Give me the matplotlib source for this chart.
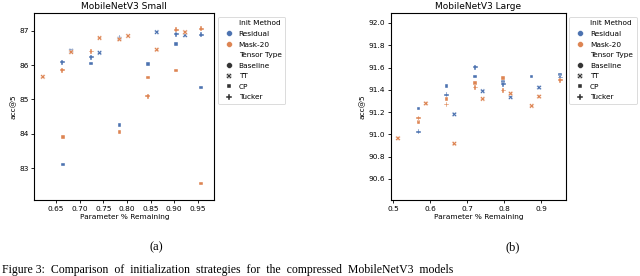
import numpy as np
import pandas as pd
import matplotlib
matplotlib.use("Agg")
import matplotlib.pyplot as plt
import seaborn as sns

methods = ["Residual", "Mask-20"]
types = ["Baseline", "TT", "CP", "Tucker"]

# MobileNetV3 Small: (x, y) per init method / tensor type
small_res_tt_x = [0.682, 0.742, 0.784, 0.863, 0.923]
small_res_tt_y = [86.42, 86.36, 86.77, 86.96, 86.87]
small_res_cp_x = [0.665, 0.724, 0.784, 0.844, 0.904, 0.957]
small_res_cp_y = [83.10, 86.05, 84.26, 86.03, 86.61, 85.35]
small_res_tk_x = [0.663, 0.724, 0.784, 0.904, 0.957]
small_res_tk_y = [86.09, 86.23, 86.80, 86.90, 86.88]

small_msk_tt_x = [0.622, 0.682, 0.742, 0.784, 0.8025, 0.863, 0.923]
small_msk_tt_y = [85.66, 86.38, 86.79, 86.75, 86.85, 86.45, 86.96]
small_msk_cp_x = [0.665, 0.784, 0.844, 0.904, 0.957]
small_msk_cp_y = [83.91, 84.05, 85.64, 85.85, 82.55]
small_msk_tk_x = [0.663, 0.724, 0.844, 0.904, 0.957]
small_msk_tk_y = [85.85, 86.40, 85.10, 87.03, 87.06]

# MobileNetV3 Large
large_res_tt_x = [0.665, 0.7415, 0.817, 0.894]
large_res_tt_y = [91.179, 91.387, 91.333, 91.42]
large_res_cp_x = [0.5686, 0.644, 0.721, 0.7965, 0.874, 0.951]
large_res_cp_y = [91.232, 91.434, 91.521, 91.47, 91.521, 91.536]
large_res_tk_x = [0.5686, 0.644, 0.721, 0.7965, 0.951]
large_res_tk_y = [91.023, 91.354, 91.604, 91.45, 91.51]

large_msk_tt_x = [0.5127, 0.588, 0.665, 0.7415, 0.817, 0.874, 0.894]
large_msk_tt_y = [90.964, 91.277, 90.916, 91.318, 91.366, 91.255, 91.339]
large_msk_cp_x = [0.5686, 0.644, 0.721, 0.7965]
large_msk_cp_y = [91.11, 91.315, 91.461, 91.506]
large_msk_tk_x = [0.5686, 0.644, 0.721, 0.7965, 0.951]
large_msk_tk_y = [91.146, 91.268, 91.42, 91.395, 91.485]


def build_frame(series):
    rows = []
    for method, ttype, xs, ys in series:
        for x, y in zip(xs, ys):
            rows.append([x, y, method, ttype])
    return pd.DataFrame(rows, columns=["Parameter % Remaining", "acc@5",
                                       "Init Method", "Tensor Type"])


df_small = build_frame([
    ("Residual", "TT", small_res_tt_x, small_res_tt_y),
    ("Residual", "CP", small_res_cp_x, small_res_cp_y),
    ("Residual", "Tucker", small_res_tk_x, small_res_tk_y),
    ("Mask-20", "TT", small_msk_tt_x, small_msk_tt_y),
    ("Mask-20", "CP", small_msk_cp_x, small_msk_cp_y),
    ("Mask-20", "Tucker", small_msk_tk_x, small_msk_tk_y),
])
df_large = build_frame([
    ("Residual", "TT", large_res_tt_x, large_res_tt_y),
    ("Residual", "CP", large_res_cp_x, large_res_cp_y),
    ("Residual", "Tucker", large_res_tk_x, large_res_tk_y),
    ("Mask-20", "TT", large_msk_tt_x, large_msk_tt_y),
    ("Mask-20", "CP", large_msk_cp_x, large_msk_cp_y),
    ("Mask-20", "Tucker", large_msk_tk_x, large_msk_tk_y),
])

small_yticks = [83, 84, 85, 86, 87]
small_xticks = [0.65, 0.70, 0.75, 0.80, 0.85, 0.90, 0.95]
large_yticks = [90.6, 90.8, 91.0, 91.2, 91.4, 91.6, 91.8, 92.0]
large_xticks = [0.5, 0.6, 0.7, 0.8, 0.9]

fs = 5.3
fig = plt.figure(figsize=(6.4, 2.76), dpi=100)
ax1 = fig.add_axes([0.0536, 0.2754, 0.2814, 0.6776])
ax2 = fig.add_axes([0.611, 0.2754, 0.273, 0.6776])

markers = {"Baseline": "o", "TT": "X", "CP": (4, 0, 45), "Tucker": "P"}
palette = {"Residual": "#4c72b0", "Mask-20": "#dd8452"}

for ax, df, title in [(ax1, df_small, "MobileNetV3 Small"),
                      (ax2, df_large, "MobileNetV3 Large")]:
    sns.scatterplot(data=df, x="Parameter % Remaining", y="acc@5",
                    hue="Init Method", hue_order=methods,
                    style="Tensor Type", style_order=types,
                    markers=markers, palette=palette, s=13, ax=ax)
    ax.set_title(title, fontsize=6.5, pad=3)
    ax.set_xlabel("Parameter % Remaining", fontsize=fs, labelpad=2)
    ax.set_ylabel("acc@5", fontsize=fs, labelpad=2)
    ax.tick_params(labelsize=fs, length=2, width=0.6, pad=2)
    for sp in ax.spines.values():
        sp.set_linewidth(0.8)
    leg = ax.legend(loc="upper left", bbox_to_anchor=(1.0, 1.0), fontsize=fs,
                    markerscale=1.15, handletextpad=0.3, labelspacing=0.6,
                    borderpad=0.5, frameon=True)
    leg.get_frame().set_linewidth(0.6)

ax1.set_xlim(0.604, 0.985)
ax1.set_ylim(82.07, 87.52)
ax1.set_xticks(small_xticks)
ax1.set_xticklabels([f"{t:.2f}" for t in small_xticks])
ax1.set_yticks(small_yticks)

ax2.set_xlim(0.494, 0.966)
ax2.set_ylim(90.41, 92.09)
ax2.set_xticks(large_xticks)
ax2.set_xticklabels([f"{t:.1f}" for t in large_xticks])
ax2.set_yticks(large_yticks)
ax2.set_yticklabels([f"{t:.1f}" for t in large_yticks])

serif = "Liberation Serif"
fig.text(156 / 640, 1 - 247 / 276, "(a)", fontsize=9, family=serif,
         ha="center", va="center")
fig.text(513 / 640, 1 - 247 / 276, "(b)", fontsize=9, family=serif,
         ha="center", va="center")
fig.text(2 / 640, 1 - 270 / 276,
         "Figure 3:  Comparison  of  initialization  strategies  for  the  "
         "compressed  MobileNetV3  models",
         fontsize=8.5, family=serif, ha="left", va="center")

fig.savefig("out.png", dpi=100)
